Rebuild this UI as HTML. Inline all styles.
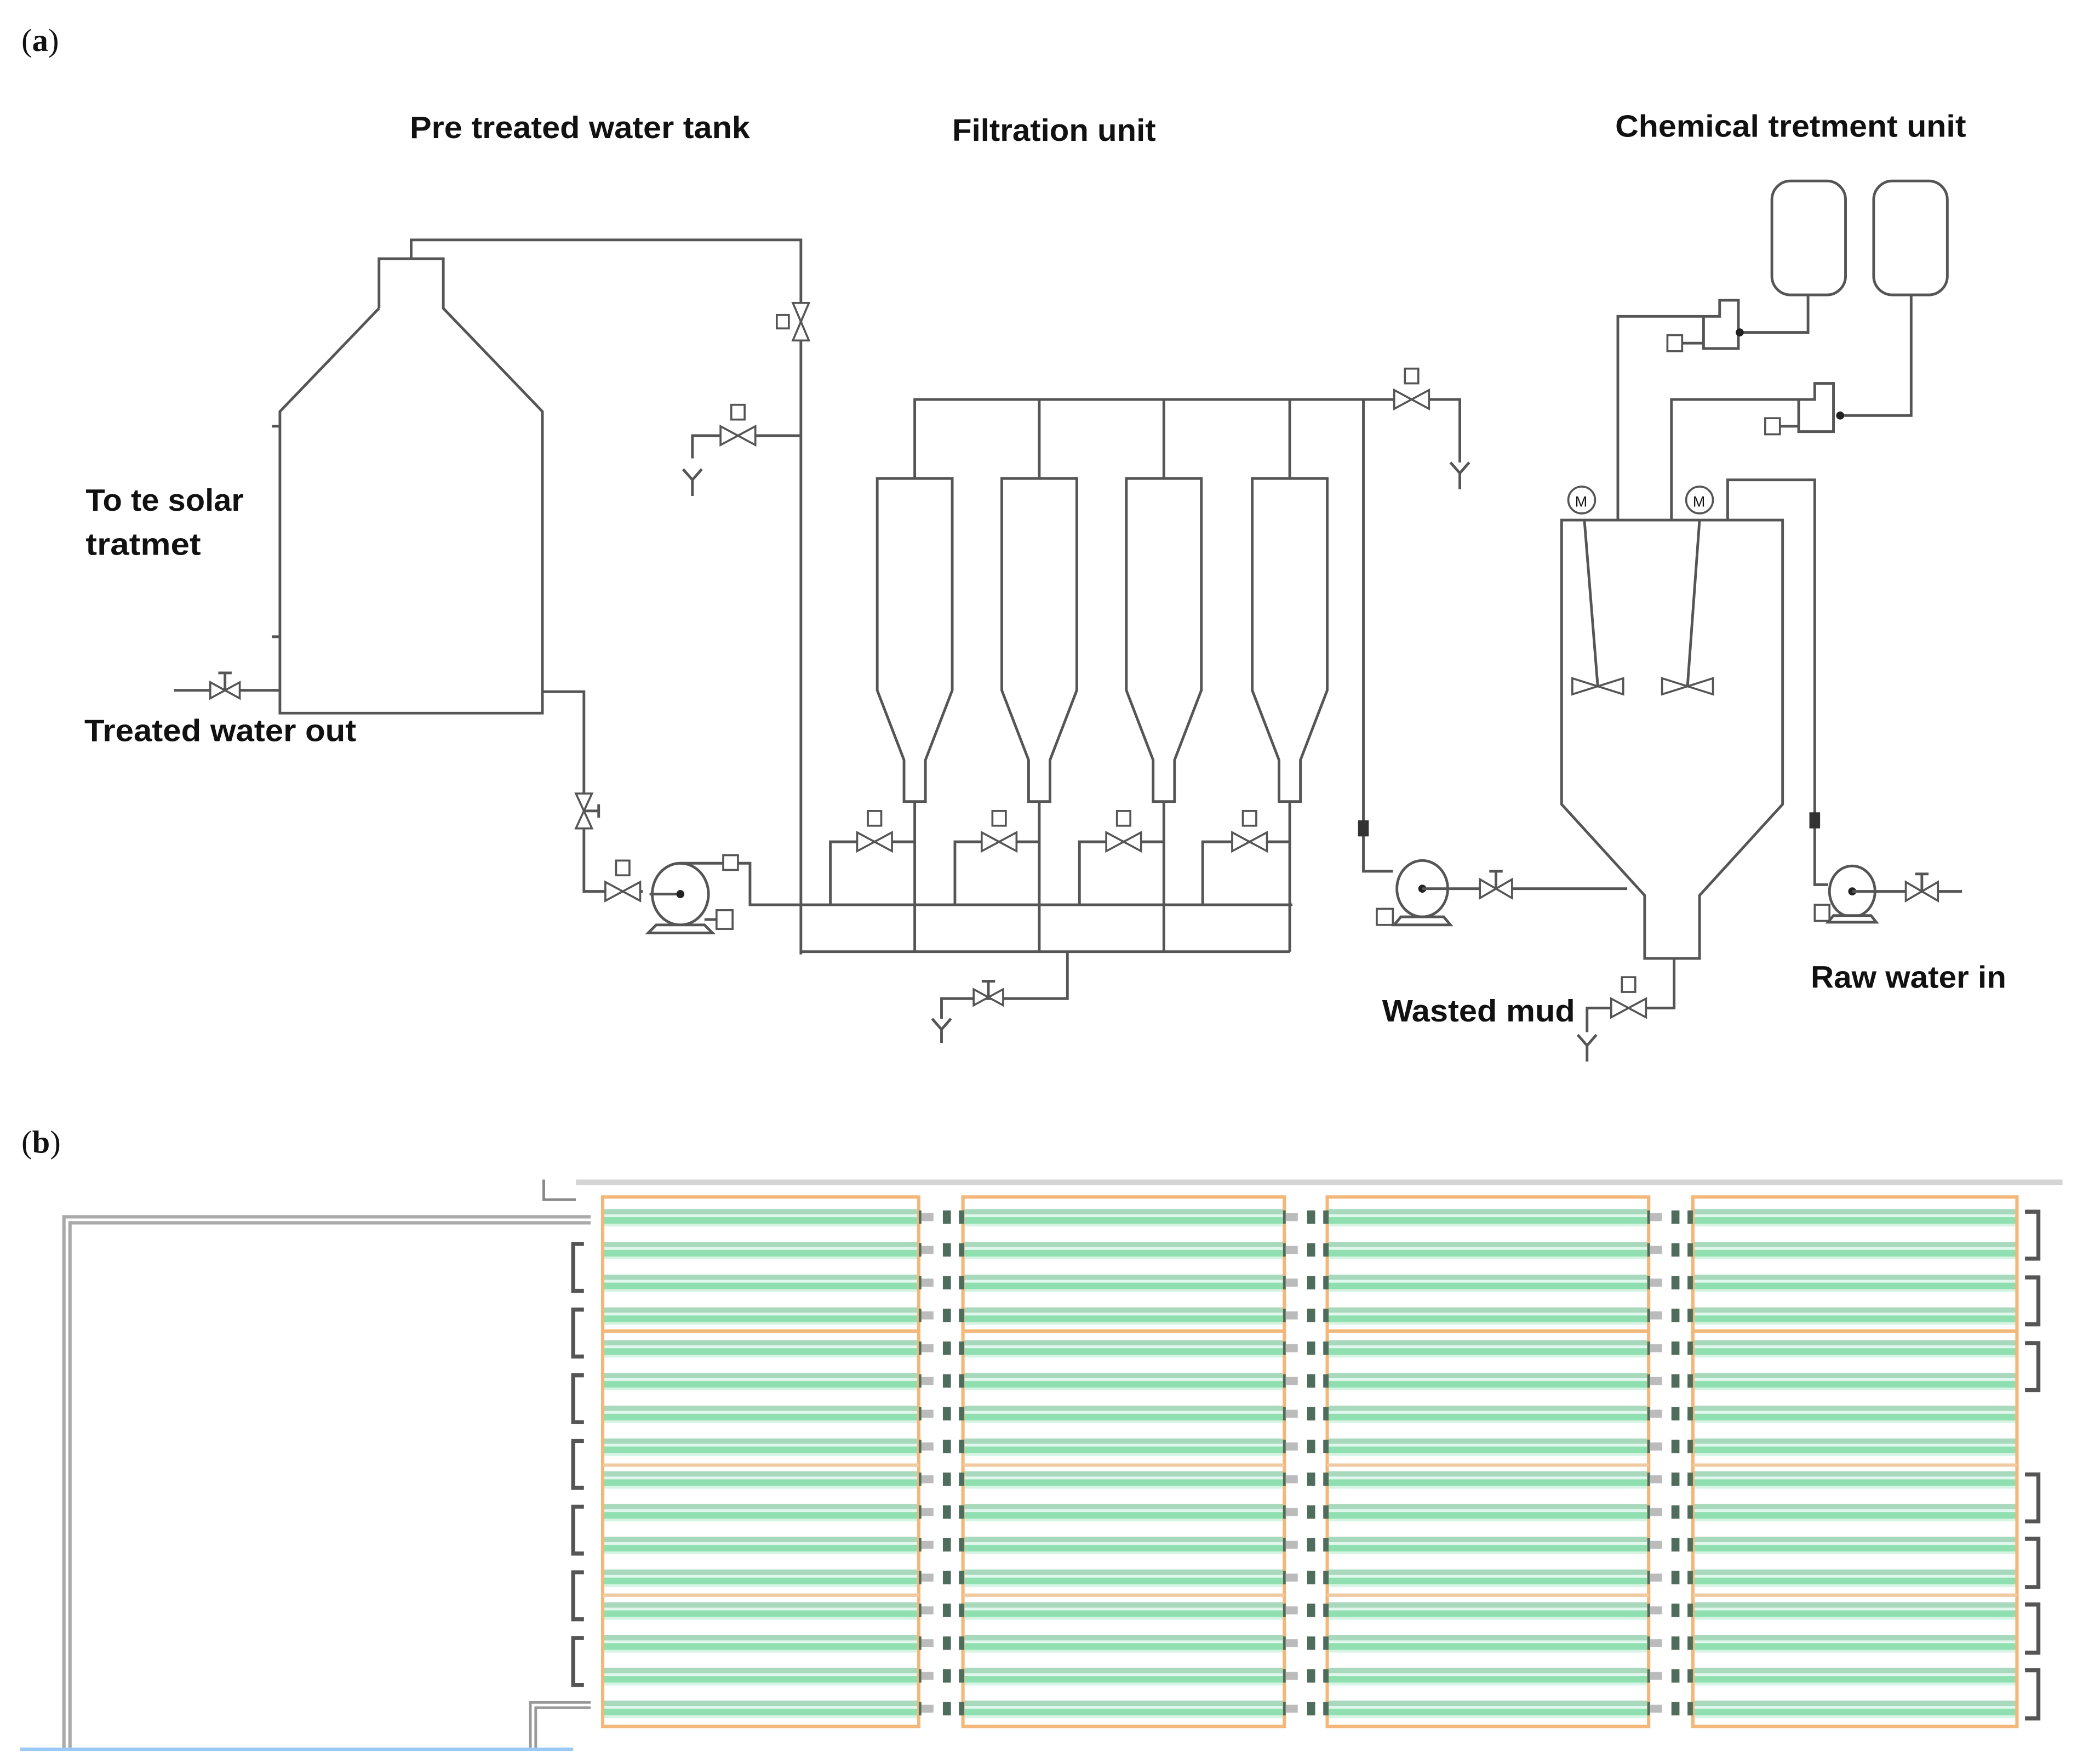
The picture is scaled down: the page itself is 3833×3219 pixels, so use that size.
<!DOCTYPE html>
<html><head><meta charset="utf-8"><style>
html,body{margin:0;padding:0;background:#fff}
svg{display:block}
text{font-family:"Liberation Sans",sans-serif;font-weight:bold;fill:#111}
.l{fill:none;stroke:#555;stroke-width:2}
.v{fill:#fff;stroke:#555;stroke-width:1.5}
</style></head><body>
<svg width="3833" height="3219" viewBox="0 0 1568 1316" preserveAspectRatio="none" xmlns="http://www.w3.org/2000/svg">
<defs>
<pattern id="tubes" patternUnits="userSpaceOnUse" x="0" y="899" width="10" height="24.45">
<rect x="0" y="3" width="10" height="4" fill="#a9d9bd"/>
<rect x="0" y="7" width="10" height="2" fill="#dff7ec"/>
<rect x="0" y="9" width="10" height="5" fill="#90dfb0"/>
<rect x="0" y="14" width="10" height="2" fill="#d6f4e4"/>
</pattern>
<pattern id="conn" patternUnits="userSpaceOnUse" x="0" y="899" width="34" height="24.45">
<rect x="2" y="4" width="6" height="10" fill="#4f6d5c"/>
<rect x="8" y="6" width="9" height="6" fill="#bbb"/>
<rect x="24" y="4" width="6" height="10" fill="#4f6d5c"/>
</pattern>
</defs>
<rect width="1568" height="1316" fill="#fff"/>
<text x="16" y="38" style="font-family:'Liberation Serif',serif;font-weight:normal;font-size:24px">(<tspan font-weight="bold">a</tspan>)</text>
<text x="16" y="860" style="font-family:'Liberation Serif',serif;font-weight:normal;font-size:24px">(<tspan font-weight="bold">b</tspan>)</text>
<g font-size="23" >
<text x="306" y="103" textLength="254" lengthAdjust="spacingAndGlyphs">Pre treated water tank</text>
<text x="711" y="105" textLength="152" lengthAdjust="spacingAndGlyphs">Filtration unit</text>
<text x="1206" y="102" textLength="262" lengthAdjust="spacingAndGlyphs">Chemical tretment unit</text>
<text x="64" y="381" textLength="118" lengthAdjust="spacingAndGlyphs">To te solar</text>
<text x="64" y="414" textLength="86" lengthAdjust="spacingAndGlyphs">tratmet</text>
<text x="63" y="553" textLength="203" lengthAdjust="spacingAndGlyphs">Treated water out</text>
<text x="1032" y="762" textLength="144" lengthAdjust="spacingAndGlyphs">Wasted mud</text>
<text x="1352" y="737" textLength="146" lengthAdjust="spacingAndGlyphs">Raw water in</text>
</g>

<path class="l" d="M283,230 V193 H331 V230 L405,307 V532 H209 V307 L283,230"/>
<path class="l" d="M203,318 H209 M203,475 H209"/>
<path class="l" d="M130,515 H209"/>
<path class="v" d="M157,509 L179,521 V509 L157,521 Z"/><path class="l" d="M168,515 V502 M163,502 H173"/>
<path class="l" d="M307,193 V179 H598 V712"/>
<path class="v" d="M592,226 L604,254 H592 L604,226 Z"/><rect class="v" x="580" y="235" width="9" height="10"/>
<path class="l" d="M598,325 H517 V342 M510,350 L517,358 L524,350 M517,358 V370"/>
<path class="v" d="M538,318 L564,332 V318 L538,332 Z"/><rect class="v" x="546" y="302" width="10" height="11"/>
<path class="l" d="M405,516 H436 V665 H480"/>
<path class="v" d="M430,592 L442,618 H430 L442,592 Z"/><path class="l" d="M436,605 H447 M447,600 V610"/>
<path class="v" d="M452,658 L478,672 V658 L452,672 Z"/><rect class="v" x="460" y="642" width="10" height="11"/>
<ellipse cx="508" cy="667" rx="21" ry="23" fill="#fff" stroke="#555" stroke-width="2"/>
<path d="M490,690 L484,696 H532 L526,690 Z" fill="#fff" stroke="#555" stroke-width="2"/>
<path class="l" d="M508,667 H485 M508,644 H560 V675 H965"/>
<circle cx="508" cy="667" r="3" fill="#222"/>
<rect class="v" x="540" y="638" width="11" height="11"/>
<rect class="v" x="535" y="679" width="12" height="14"/><path class="l" d="M526,686 H535"/>
<path class="l" d="M683,357 V298 H1090 V345 M776,298 V357 M869,298 V357 M963,298 V357"/>
<path class="l" d="M1083,345 L1090,353 L1097,345 M1090,353 V365"/>
<path class="v" d="M1041,291 L1067,305 V291 L1041,305 Z"/><rect class="v" x="1049" y="275" width="10" height="11"/>
<path class="l" d="M655,357 H711 V515 L691,567 V598 H675 V567 L655,515 Z"/>
<path class="l" transform="translate(93,0)" d="M655,357 H711 V515 L691,567 V598 H675 V567 L655,515 Z"/>
<path class="l" transform="translate(186,0)" d="M655,357 H711 V515 L691,567 V598 H675 V567 L655,515 Z"/>
<path class="l" transform="translate(280,0)" d="M655,357 H711 V515 L691,567 V598 H675 V567 L655,515 Z"/>
<path class="l" d="M683,598 V710 M776,598 V710 M869,598 V710 M963,598 V710 M598,710 H963"/>
<path class="l" d="M683,628 H620 V675 M776,628 H713 V675 M869,628 H806 V675 M963,628 H898 V675"/>
<path class="v" d="M640,621 L666,635 V621 L640,635 Z"/><rect class="v" x="648" y="605" width="10" height="11"/>
<path class="v" d="M733,621 L759,635 V621 L733,635 Z"/><rect class="v" x="741" y="605" width="10" height="11"/>
<path class="v" d="M826,621 L852,635 V621 L826,635 Z"/><rect class="v" x="834" y="605" width="10" height="11"/>
<path class="v" d="M920,621 L946,635 V621 L920,635 Z"/><rect class="v" x="928" y="605" width="10" height="11"/>
<path class="l" d="M797,710 V745 H703 V760 M696,760 L703,768 L710,760 M703,768 V778"/>
<path class="v" d="M727,738 L749,750 V738 L727,750 Z"/><path class="l" d="M738,744 V732 M733,732 H743"/>
<path class="l" d="M1018,298 V650 H1040"/>
<rect x="1014" y="612" width="8" height="12" fill="#333"/>
<ellipse cx="1062" cy="663" rx="19" ry="21" fill="#fff" stroke="#555" stroke-width="2"/>
<path d="M1046,684 L1041,690 H1083 L1078,684 Z" fill="#fff" stroke="#555" stroke-width="2"/>
<circle cx="1062" cy="663" r="3" fill="#222"/>
<rect class="v" x="1028" y="678" width="12" height="12"/>
<path class="l" d="M1062,663 H1215"/>
<path class="v" d="M1105,656 L1129,670 V656 L1105,670 Z"/><path class="l" d="M1117,663 V650 M1112,650 H1122"/>
<path class="l" d="M1166,388 H1331 V600 L1269,668 V715 H1228 V668 L1166,600 Z"/>
<circle class="v" cx="1181" cy="373" r="10"/><circle class="v" cx="1269" cy="373" r="10"/>
<text x="1176" y="378" font-size="11" style="font-weight:normal">M</text>
<text x="1264" y="378" font-size="11" style="font-weight:normal">M</text>
<path class="l" d="M1183,388 L1193,512 M1269,388 L1260,512"/>
<path class="v" d="M1174,506 L1212,518 V506 L1174,518 Z"/>
<path class="v" d="M1241,506 L1279,518 V506 L1241,518 Z"/>
<path class="l" d="M1250,715 V752 H1185 V770 M1178,772 L1185,780 L1192,772 M1185,780 V792"/>
<path class="v" d="M1203,745 L1229,759 V745 L1203,759 Z"/><rect class="v" x="1211" y="729" width="10" height="11"/>
<rect class="l" x="1323" y="135" width="55" height="85" rx="14"/>
<rect class="l" x="1399" y="135" width="55" height="85" rx="14"/>
<path class="l" d="M1350,220 V248 H1300 M1427,220 V310 H1375"/>
<path class="l" d="M1272,260 V236 H1284 V224 H1298 V260 Z"/>
<path class="l" d="M1343,322 V298 H1355 V286 H1369 V322 Z"/>
<path class="l" d="M1272,236 H1208 V388 M1343,298 H1248 V388"/>
<rect class="v" x="1245" y="250" width="11" height="12"/><path class="l" d="M1256,256 H1272"/>
<rect class="v" x="1318" y="312" width="11" height="12"/><path class="l" d="M1329,318 H1343"/>
<circle cx="1299" cy="248" r="3" fill="#222"/><circle cx="1374" cy="310" r="3" fill="#222"/>
<path class="l" d="M1290,388 V358 H1355 V660 H1365"/>
<rect x="1351" y="606" width="8" height="12" fill="#333"/>
<ellipse cx="1383" cy="665" rx="17" ry="19" fill="#fff" stroke="#555" stroke-width="2"/>
<path d="M1369,683 L1365,688 H1401 L1397,683 Z" fill="#fff" stroke="#555" stroke-width="2"/>
<circle cx="1383" cy="665" r="3" fill="#222"/>
<rect class="v" x="1355" y="675" width="11" height="12"/>
<path class="l" d="M1383,665 H1465"/>
<path class="v" d="M1423,658 L1447,672 V658 L1423,672 Z"/><path class="l" d="M1435,665 V652 M1430,652 H1440"/>

<path d="M430,882 H1540" stroke="#d4d4d4" stroke-width="4" fill="none"/>
<path d="M406,880 V895 H430" stroke="#888" stroke-width="2" fill="none"/>
<path d="M441,910 H50 V1305" stroke="#aaa" stroke-width="7" fill="none"/>
<path d="M441,910 H50 V1305" stroke="#fff" stroke-width="2" fill="none"/>
<path d="M441,1272 H398 V1305" stroke="#999" stroke-width="6" fill="none"/>
<path d="M441,1272 H398 V1305" stroke="#fff" stroke-width="2" fill="none"/>
<path d="M15,1305 H428" stroke="#9cc8f5" stroke-width="2.5"/>
<g>
<rect x="450" y="893" width="236" height="395" fill="url(#tubes)"/>
<rect x="719" y="893" width="240" height="395" fill="url(#tubes)"/>
<rect x="991" y="893" width="240" height="395" fill="url(#tubes)"/>
<rect x="1264" y="893" width="242" height="395" fill="url(#tubes)"/>
<g fill="none" stroke="#f3b779" stroke-width="2.5">
<rect x="450" y="893" width="236" height="395"/>
<rect x="719" y="893" width="240" height="395"/>
<rect x="991" y="893" width="240" height="395"/>
<rect x="1264" y="893" width="242" height="395"/>
<path d="M450,993 H686 M719,993 H959 M991,993 H1231 M1264,993 H1506"/>
<path d="M450,1093 H686 M719,1093 H959 M991,1093 H1231 M1264,1093 H1506" stroke="#f0caa0"/>
<path d="M450,1190 H686 M719,1190 H959 M991,1190 H1231 M1264,1190 H1506" stroke="#f0caa0"/>
</g>
<rect x="686" y="899" width="34" height="391" fill="url(#conn)"/>
<rect x="958" y="899" width="34" height="391" fill="url(#conn)"/>
<rect x="1230" y="899" width="34" height="391" fill="url(#conn)"/>
<g fill="none" stroke="#555" stroke-width="3">
<path d="M436,928 H428 V963 H436 M436,977 H428 V1012 H436 M436,1026 H428 V1061 H436 M436,1075 H428 V1110 H436 M436,1124 H428 V1159 H436 M436,1173 H428 V1208 H436 M436,1222 H428 V1257 H436"/>
<path d="M1512,904 H1522 V939 H1512 M1512,953 H1522 V988 H1512 M1512,1002 H1522 V1037 H1512 M1512,1100 H1522 V1135 H1512 M1512,1148 H1522 V1184 H1512 M1512,1197 H1522 V1233 H1512 M1512,1246 H1522 V1282 H1512"/>
</g>
</g>
</svg>
</body></html>
